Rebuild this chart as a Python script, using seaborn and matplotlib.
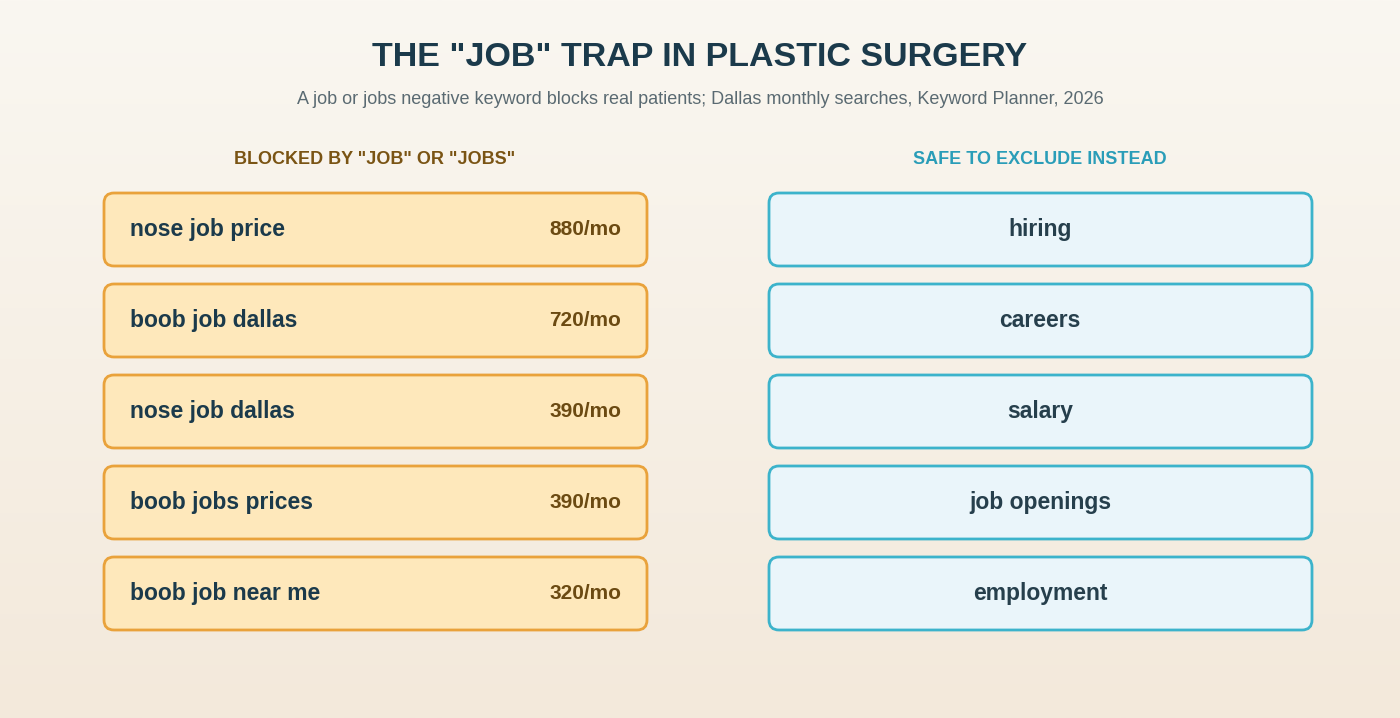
import matplotlib
matplotlib.use("Agg")
import matplotlib.pyplot as plt
from matplotlib.patches import FancyBboxPatch
import numpy as np
import seaborn as sns

sns.set_theme(style="white")
plt.rcParams['font.family'] = ['Liberation Sans', 'DejaVu Sans']

title = 'THE "JOB" TRAP IN PLASTIC SURGERY'
subtitle = "A job or jobs negative keyword blocks real patients; Dallas monthly searches, Keyword Planner, 2026"
left_header = 'BLOCKED BY "JOB" OR "JOBS"'
right_header = "SAFE TO EXCLUDE INSTEAD"
blocked_keywords = ["nose job price", "boob job dallas", "nose job dallas", "boob jobs prices", "boob job near me"]
blocked_volumes = [880, 720, 390, 390, 320]
safe_keywords = ["hiring", "careers", "salary", "job openings", "employment"]

fig = plt.figure(figsize=(14, 7.18), dpi=100)
ax = fig.add_axes([0, 0, 1, 1])
ax.set_xlim(0, 1400)
ax.set_ylim(718, 0)
ax.axis("off")

# background gradient
grad = np.linspace(0, 1, 256)[:, None]
top = np.array([250, 247, 241]) / 255
bot = np.array([243, 233, 219]) / 255
img = top + (bot - top) * grad[..., None]
ax.imshow(img, extent=[0, 1400, 718, 0], aspect="auto", zorder=0)

dark = "#1b3a4b"
ax.text(700, 57, title, ha="center", va="center", fontsize=24.5, fontweight="bold", color=dark)
ax.text(700, 99, subtitle, ha="center", va="center", fontsize=13, color="#5a6a72")

def spaced(s):
    return "\u200a".join(s)

ax.text(375, 160, left_header, ha="center", va="center", fontsize=13, fontweight="bold",
        color="#7a5414")
ax.text(1040, 160, right_header, ha="center", va="center", fontsize=13, fontweight="bold",
        color="#2a9db8")

h = 73
step = 91
y0 = 193
for i, (kw, vol) in enumerate(zip(blocked_keywords, blocked_volumes)):
    y = y0 + i * step
    p = FancyBboxPatch((104, y), 543, h, boxstyle="round,pad=0,rounding_size=10",
                       fc="#fee8bb", ec="#e9a23b", lw=2, zorder=2)
    ax.add_patch(p)
    ax.text(130, y + h / 2, kw, ha="left", va="center", fontsize=16.5, fontweight="bold", color=dark, zorder=3)
    ax.text(621, y + h / 2, f"{vol}/mo", ha="right", va="center", fontsize=15, fontweight="bold",
            color="#6b4a12", zorder=3)

for i, kw in enumerate(safe_keywords):
    y = y0 + i * step
    p = FancyBboxPatch((769, y), 543, h, boxstyle="round,pad=0,rounding_size=10",
                       fc="#eaf5fa", ec="#3cb3cb", lw=2, zorder=2)
    ax.add_patch(p)
    ax.text(1040, y + h / 2, kw, ha="center", va="center", fontsize=16.5, fontweight="bold",
            color="#263f4c", zorder=3)

fig.savefig("out.png", dpi=100)
